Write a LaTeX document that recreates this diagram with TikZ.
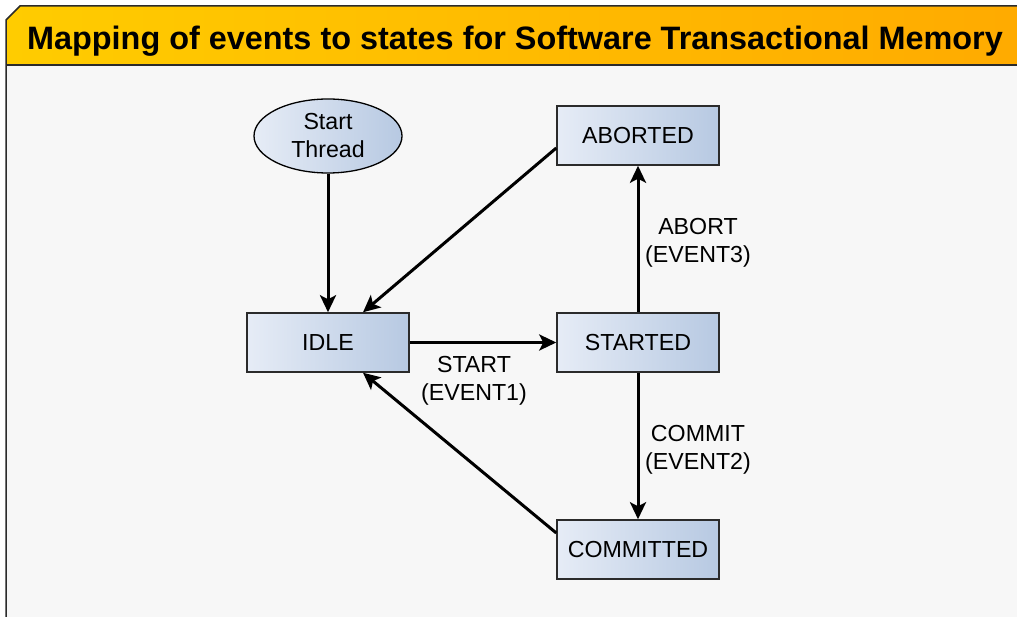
\documentclass[tikz,border=0pt]{standalone}
\usepackage{fontspec}
\setmainfont{Liberation Sans}
\usetikzlibrary{arrows.meta,calc,shapes.geometric}
\definecolor{bandL}{HTML}{FFCC00}
\definecolor{bandR}{HTML}{FFAA00}
\definecolor{panel}{HTML}{F7F7F7}
\definecolor{boxL}{HTML}{E6ECF6}
\definecolor{boxR}{HTML}{B7C9E2}
\definecolor{edge}{HTML}{2B2B2B}
\tikzset{
  state/.style={draw=edge, line width=1.5pt, left color=boxL, right color=boxR,
    minimum width=162pt, minimum height=59pt, inner sep=0pt,
    font=\fontsize{23.2}{28}\selectfont},
  startnode/.style={draw=black, line width=1.3pt, ellipse, left color=boxL, right color=boxR,
    minimum width=148pt, minimum height=74pt, inner sep=0pt, align=center,
    font=\fontsize{23.2}{28}\selectfont},
  lbl/.style={align=center, font=\fontsize{23.2}{28}\selectfont, inner sep=0pt},
  flow/.style={line width=3pt, -{Stealth[length=17pt,width=16pt,inset=4pt]}},
}
\begin{document}
\begin{tikzpicture}[x=1pt,y=-1pt]
\useasboundingbox (0,0) rectangle (1017,617);
\fill[white] (0,0) rectangle (1017,617);
\begin{scope}
\clip (0,0) rectangle (1017,617);
% panel body
\fill[panel] (6,65) rectangle (1040,640);
% title band with chamfered corner
\shade[left color=bandL, right color=bandR] (6,65) -- (6,20) -- (20,6) -- (1040,6) -- (1040,65) -- cycle;
\draw[edge, line width=1.5pt] (6,640) -- (6,20) -- (20,6) -- (1040,6);
\draw[edge, line width=1.5pt] (6,65) -- (1040,65);
\end{scope}
\node[font=\fontsize{32.4}{36}\selectfont\bfseries, inner sep=0pt, anchor=base] (title) at (515,50)
  {Mapping of events to states for Software Transactional Memory};

% states
\node[startnode] (start) at (328,136) {Start\\Thread};
\node[state] (idle) at (328,342.5) {IDLE};
\node[state] (started) at (638,342.5) {STARTED};
\node[state] (aborted) at (638,135.5) {ABORTED};
\node[state] (committed) at (638,549.5) {COMMITTED};

% transitions
\draw[flow] (start) -- (idle);
\draw[flow] (idle) -- (started);
\draw[flow] (started) -- (aborted);
\draw[flow] (started) -- (committed);
\draw[flow] ([yshift=-12.5pt]aborted.west) -- ([xshift=35pt]idle.north);
\draw[flow] ([yshift=16.5pt]committed.west) -- ([xshift=35pt]idle.south);

% event labels
\node[lbl] (l1) at (474,381) {START\\(EVENT1)};
\node[lbl] (l3) at (698,243) {ABORT\\(EVENT3)};
\node[lbl] (l2) at (698,450) {COMMIT\\(EVENT2)};
\end{tikzpicture}
\end{document}
